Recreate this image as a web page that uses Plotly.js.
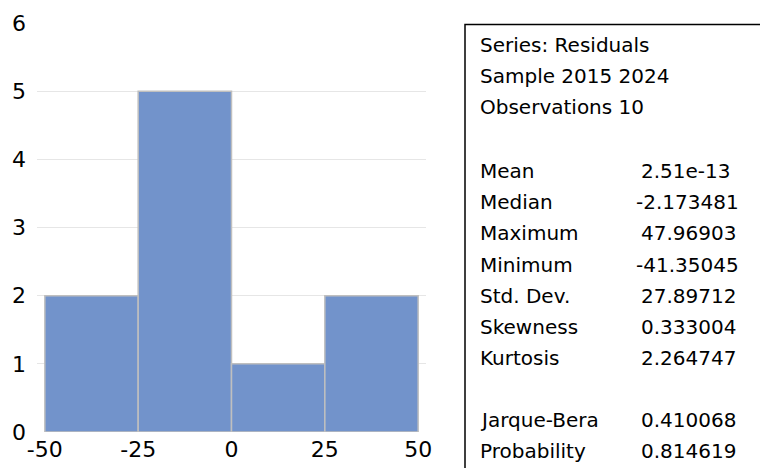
<!DOCTYPE html>
<html><head><meta charset="utf-8">
<script src="https://cdn.plot.ly/plotly-3.0.1.min.js"></script>
<style>html,body{margin:0;padding:0;background:#fff}</style>
</head><body>
<div id="chart" style="width:760px;height:468px"></div>
<script>
const binCenters = [-37.5, -12.5, 12.5, 37.5];
const binWidth = 25;
const counts = [2, 5, 1, 2];
const xTicks = [-50, -25, 0, 25, 50];
const yTicks = [0, 1, 2, 3, 4, 5, 6];
const gridTicks = [1, 2, 3, 4, 5];
const headerLines = ["Series: Residuals", "Sample 2015 2024", "Observations 10"];
const statNames = ["Mean", "Median", "Maximum", "Minimum", "Std. Dev.", "Skewness", "Kurtosis"];
const statValues = ["2.51e-13", "-2.173481", "47.96903", "-41.35045", "27.89712", "0.333004", "2.264747"];
const testNames = ["Jarque-Bera", "Probability"];
const testValues = ["0.410068", "0.814619"];

const FONT = "'DejaVu Sans', sans-serif";
const W = 760, H = 468;
const L = 37, R = 426, T = 23.4, B = 432.3;
const px = x => (x - L) / (R - L);
const py = y => (B - y) / (B - T);

const annotations = [];
function addText(text, x, y, anchor) {
  annotations.push({text: text, xref: 'paper', yref: 'paper', x: px(x), y: py(y),
    xanchor: anchor || 'left', yanchor: 'middle', showarrow: false,
    font: {family: FONT, size: 20, color: '#000'}});
}
const labelX = 478, valueX = 639, negShift = 5;
const rowStep = 31.3;
headerLines.forEach((t, i) => addText(t, labelX, 45 + i * rowStep));
statNames.forEach((t, i) => {
  const y = 171 + i * rowStep;
  addText(t, labelX, y);
  const v = statValues[i];
  addText(v, v.startsWith('-') ? valueX - negShift : valueX, y);
});
testNames.forEach((t, i) => {
  const y = 420 + i * rowStep;
  addText(t, labelX, y);
  addText(testValues[i], valueX, y);
});

const trace = {
  type: 'bar', x: binCenters, y: counts, width: binWidth,
  marker: {color: '#7293CB', line: {color: '#BFBFBF', width: 1.5}},
  hoverinfo: 'skip'
};
const gridTrace = {type: 'scatter', x: [0], y: [0], yaxis: 'y2', mode: 'markers',
  marker: {opacity: 0}, hoverinfo: 'skip', showlegend: false};

const layout = {
  width: W, height: H,
  margin: {l: L, r: W - R, t: T, b: H - B, pad: 0},
  paper_bgcolor: '#fff', plot_bgcolor: 'rgba(0,0,0,0)',
  showlegend: false, bargap: 0,
  font: {family: FONT, color: '#000'},
  xaxis: {range: [-52.1, 52.1], tickvals: xTicks, ticktext: xTicks.map(String),
    showgrid: false, zeroline: false, showline: false, ticks: '',
    tickfont: {size: 22, family: FONT, color: '#000'}, ticklabelstandoff: 2},
  yaxis: {range: [0, 6], tickvals: yTicks, showgrid: false, zeroline: false,
    showline: false, ticks: '', tickfont: {size: 22, family: FONT, color: '#000'},
    ticklabelstandoff: 10},
  yaxis2: {range: [0, 6], overlaying: 'y', tickvals: gridTicks, showticklabels: false,
    showgrid: true, gridcolor: '#E6E6E6', gridwidth: 1.2, zeroline: false, layer: 'below traces'},
  shapes: [{type: 'rect', xref: 'paper', yref: 'paper', x0: px(465), x1: px(775),
    y0: py(480), y1: py(25), line: {color: '#000', width: 1.5}, fillcolor: 'rgba(0,0,0,0)'}],
  annotations: annotations
};
Plotly.newPlot('chart', [gridTrace, trace], layout, {displayModeBar: false, staticPlot: true});
</script>
</body></html>
